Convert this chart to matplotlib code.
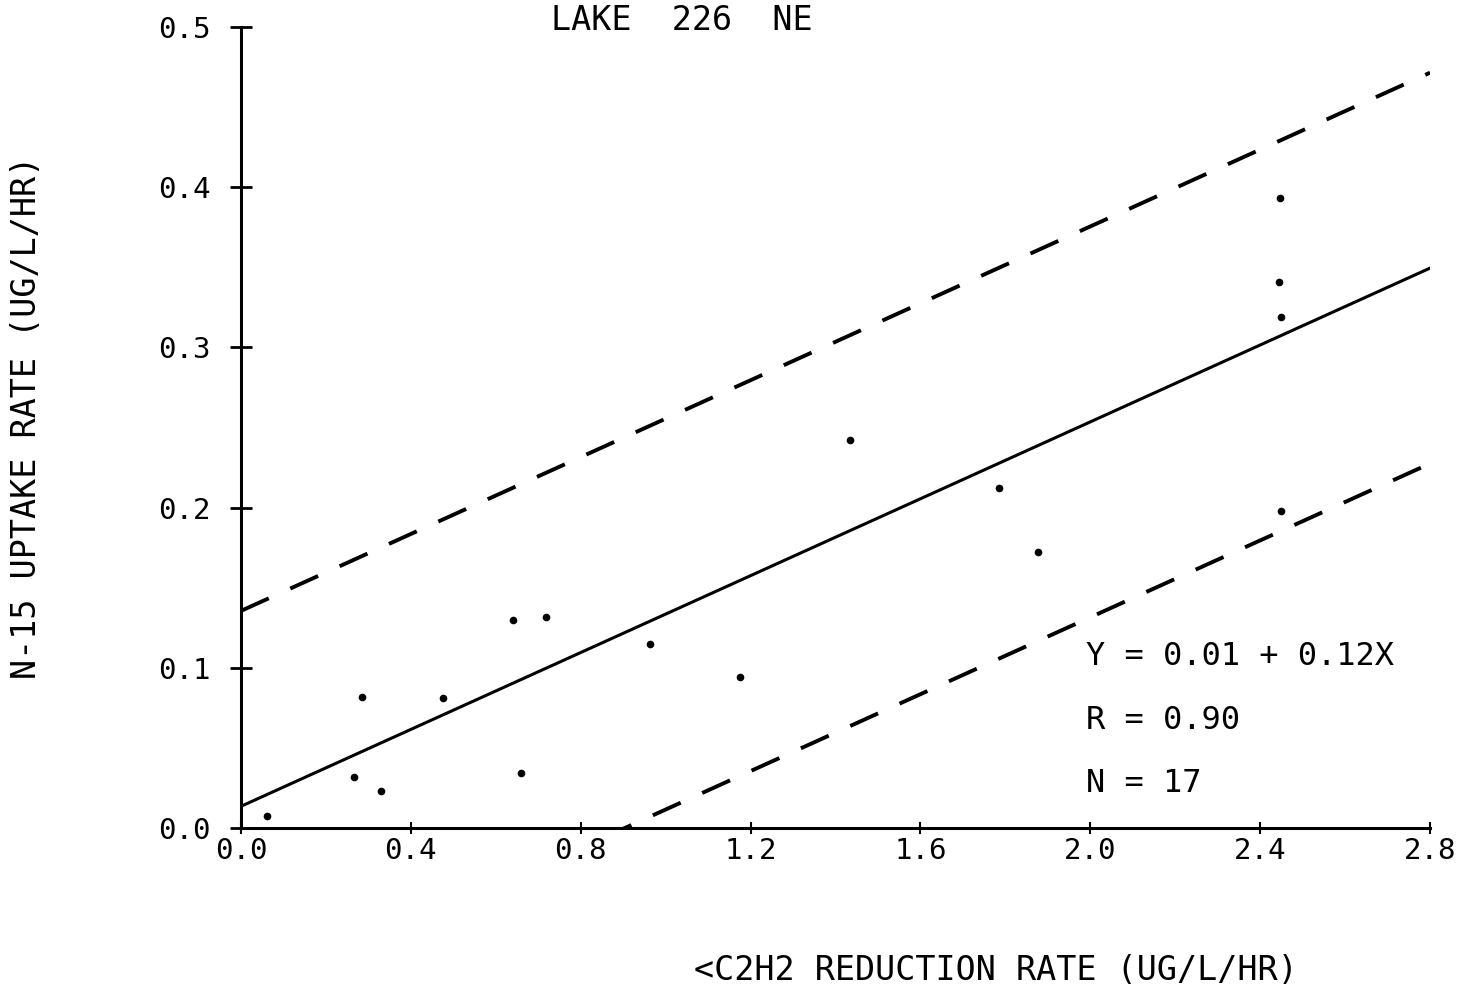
import matplotlib
matplotlib.use('Agg')
import matplotlib.pyplot as plt
import numpy as np

plt.rcParams['font.family'] = ['DejaVu Sans Mono']
plt.rcParams['lines.scale_dashes'] = False

# C2H2 reduction vs N-15 uptake, Lake 226 NE
c2h2 = [0.061, 0.267, 0.286, 0.331, 0.475, 0.640, 0.659, 0.718, 0.963,
        1.174, 1.433, 1.785, 1.877, 2.446, 2.444, 2.449, 2.449]
n15 = [0.0075, 0.032, 0.082, 0.023, 0.081, 0.130, 0.034, 0.132, 0.115,
       0.094, 0.242, 0.2125, 0.1725, 0.393, 0.341, 0.319, 0.198]

# regression results
intercept = 0.0135
slope = 0.12
r_value = 0.90
band = 0.122  # half width of the dashed confidence lines

xticks = [0.0, 0.4, 0.8, 1.2, 1.6, 2.0, 2.4, 2.8]
yticks = [0.0, 0.1, 0.2, 0.3, 0.4, 0.5]

fig = plt.figure(figsize=(14.69, 9.93), dpi=100)
ax = fig.add_axes([0.164, 0.1662, 0.8095, 0.8066])

ax.plot(c2h2, n15, 'o', color='k', markersize=4.5, zorder=3)

xx = np.array([0.0, 2.8])
ax.plot(xx, intercept + slope * xx, color='k', linewidth=2.2)
ax.plot(xx, intercept + band + slope * xx, color='k', linewidth=2.8,
        dashes=(22, 17))
ax.plot(xx, intercept - band + slope * xx, color='k', linewidth=2.8,
        dashes=(22, 17))

ax.set_xlim(0, 2.8)
ax.set_ylim(0, 0.5)
ax.spines['top'].set_visible(False)
ax.spines['right'].set_visible(False)
ax.spines['left'].set_linewidth(2.2)
ax.spines['bottom'].set_linewidth(2.2)

ax.set_xticks(xticks)
ax.set_xticklabels(['%.1f' % v for v in xticks])
ax.set_yticks(yticks)
ax.set_yticklabels(['%.1f' % v for v in yticks])
ax.tick_params(axis='x', direction='inout', length=9, width=1.5,
               labelsize=21, pad=2)
ax.tick_params(axis='y', direction='inout', length=16, width=2,
               labelsize=21, pad=14)

fig.text(0.464, 0.979, 'LAKE  226  NE', ha='center', va='center',
         fontsize=24)
fig.text(0.018, 0.58, 'N-15 UPTAKE RATE (UG/L/HR)', rotation=90,
         ha='center', va='center', fontsize=24)
fig.text(0.678, 0.023, '<C2H2 REDUCTION RATE (UG/L/HR)', ha='center',
         va='center', fontsize=24)

ax.text(1.99, 0.107, 'Y = %.2f + %.2fX' % (intercept, slope), fontsize=23,
        va='center')
ax.text(1.99, 0.067, 'R = %.2f' % r_value, fontsize=23, va='center')
ax.text(1.99, 0.028, 'N = %d' % len(c2h2), fontsize=23, va='center')

fig.savefig('out.png', dpi=100)
